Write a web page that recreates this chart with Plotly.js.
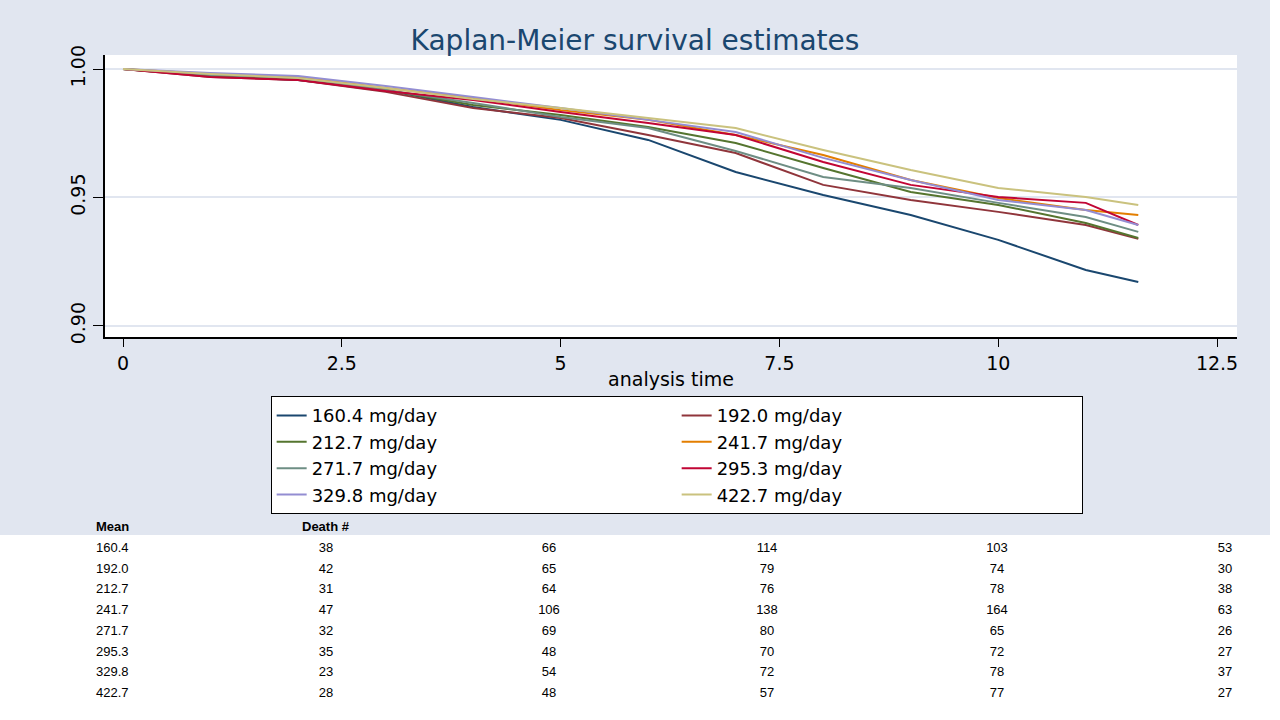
<!DOCTYPE html>
<html><head><meta charset="utf-8">
<script src="https://cdn.plot.ly/plotly-3.0.1.min.js"></script>
<style>
body{margin:0;background:#fff;width:1280px;height:720px;overflow:hidden;font-family:"Liberation Sans",Arial,sans-serif;}
#chart{position:absolute;left:0;top:0;width:1270px;height:535px;}
#tbl{position:absolute;left:0;top:517px;font-size:13px;color:#000;}
.c{position:absolute;white-space:nowrap;}
</style></head><body>
<div id="chart"></div>
<div id="tbl"></div>
<script>
const times = [0, 1, 2, 3, 4, 5, 6, 7, 8, 9, 10, 11, 11.6];
const groupNames = ["160.4 mg/day","192.0 mg/day","212.7 mg/day","241.7 mg/day","271.7 mg/day","295.3 mg/day","329.8 mg/day","422.7 mg/day"];
const s160 = [1, 0.9973, 0.9957, 0.9918, 0.9852, 0.9802, 0.9724, 0.9599, 0.9510, 0.9432, 0.9335, 0.9218, 0.9171];
const s192 = [1, 0.9969, 0.9957, 0.9911, 0.9848, 0.9809, 0.9743, 0.9673, 0.9549, 0.9490, 0.9444, 0.9393, 0.9339];
const s212 = [1, 0.9973, 0.9961, 0.9918, 0.9860, 0.9821, 0.9774, 0.9712, 0.9615, 0.9521, 0.9471, 0.9401, 0.9342];
const s241 = [1, 0.9981, 0.9969, 0.9926, 0.9887, 0.9840, 0.9802, 0.9743, 0.9665, 0.9568, 0.9498, 0.9451, 0.9432];
const s271 = [1, 0.9977, 0.9965, 0.9918, 0.9868, 0.9813, 0.9770, 0.9681, 0.9580, 0.9537, 0.9479, 0.9424, 0.9366];
const s295 = [1, 0.9969, 0.9957, 0.9914, 0.9879, 0.9833, 0.9790, 0.9743, 0.9638, 0.9549, 0.9502, 0.9479, 0.9393];
const s329 = [1, 0.9984, 0.9973, 0.9934, 0.9891, 0.9848, 0.9802, 0.9755, 0.9654, 0.9568, 0.9490, 0.9451, 0.9393];
const s422 = [1, 0.9981, 0.9965, 0.9926, 0.9883, 0.9848, 0.9809, 0.9770, 0.9685, 0.9607, 0.9537, 0.9502, 0.9471];
const series = [s160, s192, s212, s241, s271, s295, s329, s422];
const colors = ["#1a476f","#90353b","#55752f","#e37e00","#6e8e84","#c10534","#938dd2","#cac27e"];

const tableMeans = ["160.4","192.0","212.7","241.7","271.7","295.3","329.8","422.7"];
const deaths = [[38,66,114,103,53],[42,65,79,74,30],[31,64,76,78,38],[47,106,138,164,63],[32,69,80,65,26],[35,48,70,72,27],[23,54,72,78,37],[28,48,57,77,27]];

const traces = series.map((s,i)=>({x:times,y:s,type:'scatter',mode:'lines',line:{shape:'linear',color:colors[i],width:2},name:groupNames[i]}));
const F='"DejaVu Sans",Verdana,sans-serif';
const layout = {
  width:1270,height:535,
  paper_bgcolor:'#e1e6f0',plot_bgcolor:'#fff',
  margin:{l:105,r:33,t:55,b:198},
  font:{family:F,color:'#000'},
  title:{text:'Kaplan-Meier survival estimates',font:{size:28,color:'#1a476f',family:F},x:0.5,xanchor:'center',y:0.925,yanchor:'middle'},
  xaxis:{range:[-0.206,12.728],tickvals:[0,2.5,5,7.5,10,12.5],ticktext:['0','2.5','5','7.5','10','12.5'],showgrid:false,zeroline:false,showline:true,linecolor:'#000',linewidth:2,ticks:'outside',ticklen:8,tickcolor:'#000',tickfont:{size:19},title:{text:'analysis time',font:{size:19},standoff:0}},
  yaxis:{range:[0.8957,1.00545],tickvals:[0.9,0.95,1.0],ticktext:['0.90','0.95','1.00'],tickangle:-90,showgrid:true,gridcolor:'#e1e6f0',gridwidth:2,zeroline:false,showline:true,linecolor:'#000',linewidth:2,ticks:'outside',ticklen:10,tickcolor:'#000',tickfont:{size:19}},
  showlegend:true,
  legend:{orientation:'h',x:0.505,xanchor:'center',y:-0.21,yanchor:'top',bgcolor:'#fff',bordercolor:'#000',borderwidth:1,font:{size:18},entrywidth:360,tracegroupgap:0}
};
Plotly.newPlot('chart',traces,layout,{displayModeBar:false,staticPlot:true});

const tbl=document.getElementById('tbl');
function cell(txt,x,y,center,bold){const d=document.createElement('div');d.className='c';d.textContent=txt;d.style.top=y+'px';if(center){d.style.left=(x-40)+'px';d.style.width='80px';d.style.textAlign='center';}else d.style.left=x+'px';if(bold)d.style.fontWeight='bold';tbl.appendChild(d);}
cell('Mean',96,2,false,true);cell('Death #',302,2,false,true);
const colX=[326,549,767,997,1225];
tableMeans.forEach((m,r)=>{const y=23+r*20.7;cell(m,96,y,false,false);deaths[r].forEach((v,c)=>cell(String(v),colX[c],y,true,false));});
</script></body></html>
